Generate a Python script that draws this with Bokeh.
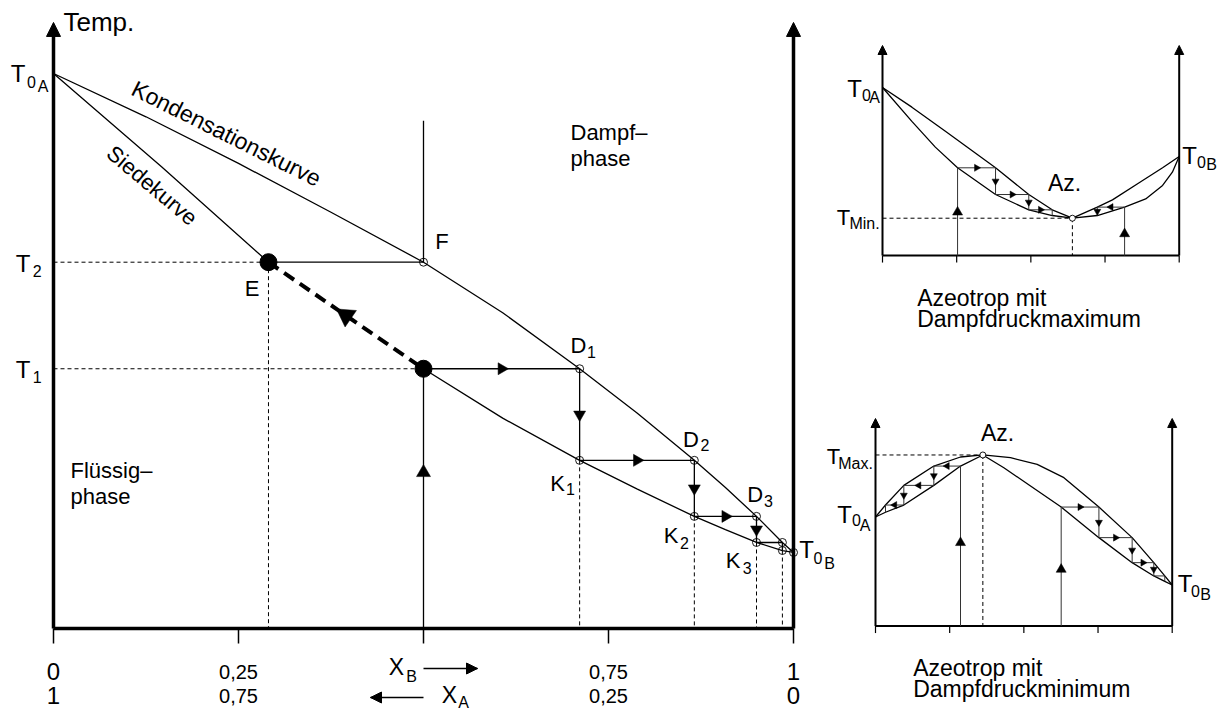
import math
from bokeh.plotting import figure
from bokeh.models import Range1d, Arrow, NormalHead
from bokeh.embed import file_html
from bokeh.resources import INLINE
from bokeh.core.properties import value

FONT = "Liberation Sans"

# ---------------- main diagram: x = mole fraction of B, T in arbitrary units ----------------
TICKS_X = [0, 0.25, 0.5, 0.75, 1.0]
TICK_LABELS_XB = ["0", "0,25", "", "0,75", "1"]
TICK_LABELS_XA = ["1", "0,75", "", "0,25", "0"]

DEW_X = [0, 0.125, 0.25, 0.375, 0.5, 0.607, 0.711, 0.789, 0.866, 0.908, 0.95, 0.985, 1.0]
DEW_T = [100, 92.2, 83.8, 75.0, 66.0, 56.9, 46.8, 38.8, 30.3, 25.4, 20.2, 15.5, 13.7]
BOIL_X = [0, 0.146, 0.2905, 0.5, 0.607, 0.711, 0.789, 0.866, 0.908, 0.95, 0.985, 1.0]
BOIL_T = [100, 83.2, 66.0, 46.8, 37.9, 30.3, 25.1, 20.2, 17.8, 15.5, 14.05, 13.7]
T2 = 66.0
T1 = 46.8
X_E = 0.2905
X_FEED = 0.5
F_TOP = 91.5
STAGE_X = [0.5, 0.711, 0.866, 0.95, 0.985]
STAGE_T = [46.8, 30.3, 20.2, 15.5, 14.05]
T_AXIS_TOP = 109.2

# ---------------- inset 1: azeotrope with vapour pressure maximum ----------------
TOP_DEW_X = [0, 0.099, 0.212, 0.381, 0.493, 0.572, 0.640, 0.724, 0.775, 0.865, 0.944, 1.0]
TOP_DEW_T = [100, 88.3, 74.0, 52.2, 36.3, 27.2, 22.2, 28.8, 33.1, 43.3, 52.2, 58.9]
TOP_BOIL_X = [0, 0.099, 0.178, 0.253, 0.381, 0.493, 0.572, 0.640, 0.724, 0.816, 0.887, 0.944, 0.977, 1.0]
TOP_BOIL_T = [100, 79.8, 64.5, 52.2, 36.3, 27.2, 23.8, 22.2, 23.8, 28.8, 33.7, 41.7, 49.6, 58.9]
TOP_AZ = (0.640, 22.2)
TOP_STAGE_L_X = [0.253, 0.381, 0.493, 0.572]
TOP_STAGE_L_T = [52.2, 36.3, 27.2, 23.8]
TOP_STAGE_R_X = [0.816, 0.724]
TOP_STAGE_R_T = [28.8, 23.8]

# ---------------- inset 2: azeotrope with vapour pressure minimum ----------------
BOT_DEW_X = [0, 0.0337, 0.0955, 0.1966, 0.2865, 0.3618, 0.455, 0.545, 0.635, 0.753, 0.865, 0.938, 0.975, 1.0]
BOT_DEW_T = [64.9, 72.0, 83.7, 95.2, 100.6, 101.8, 100.2, 96.2, 88.3, 70.8, 52.6, 37.7, 29.8, 24.4]
BOT_BOIL_X = [0, 0.0337, 0.0955, 0.1966, 0.2865, 0.3618, 0.4326, 0.5225, 0.6258, 0.753, 0.865, 0.938, 0.975, 1.0]
BOT_BOIL_T = [64.9, 67.7, 72.0, 83.7, 95.2, 101.8, 94.2, 83.3, 70.8, 52.6, 37.7, 29.8, 26.6, 24.4]
BOT_AZ = (0.3618, 101.8)
BOT_STAGE_L_X = [0.2865, 0.1966, 0.0955, 0.0337]
BOT_STAGE_L_T = [95.2, 83.7, 72.0, 67.7]
BOT_STAGE_R_X = [0.6258, 0.753, 0.865, 0.938, 0.975]
BOT_STAGE_R_T = [70.8, 52.6, 37.7, 29.8, 26.6]

# ---------------- geometry (page pixels <-> data) ----------------
W, H = 1219, 710
PX0, PY0 = 0, 0
MAIN = dict(x0=53, sx=740.0, y0=628, sy=5.55)
TOP = dict(x0=882, sx=296.7, y0=255, sy=1.68)
BOT = dict(x0=875, sx=296.7, y0=625.5, sy=1.68)


def rng(g):
    xr = Range1d((PX0 - g["x0"]) / g["sx"], (PX0 + W - g["x0"]) / g["sx"])
    yr = Range1d((g["y0"] - (PY0 + H)) / g["sy"], (g["y0"] - PY0) / g["sy"])
    return xr, yr


def conv(g, px, py):
    return (px - g["x0"]) / g["sx"], (g["y0"] - py) / g["sy"]


mx, my = rng(MAIN)
p = figure(width=W, height=H, x_range=mx, y_range=my, output_backend="svg",
           toolbar_location=None, x_axis_type=None, y_axis_type=None,
           min_border=0, outline_line_color=None, title=None)
p.background_fill_color = "white"
p.border_fill_color = "white"
tx, ty = rng(TOP)
bx, by = rng(BOT)
p.extra_x_ranges = {"tx": tx, "bx": bx}
p.extra_y_ranges = {"ty": ty, "by": by}
RN = {"main": ("default", "default"), "top": ("tx", "ty"), "bot": ("bx", "by")}
GEO = {"main": MAIN, "top": TOP, "bot": BOT}


def kw(name):
    a, b = RN[name]
    return dict(x_range_name=a, y_range_name=b)


def line(name, xs, ys, width=1.3, color="black", dash="solid"):
    p.line(xs, ys, line_width=width, line_color=color, line_dash=dash, **kw(name))


def tri(name, xs, ys, angles, size):
    p.scatter(xs, ys, marker="triangle", size=size, angle=angles, fill_color="black",
              line_color="black", line_width=0.5, **kw(name))


def head(name, x0, y0, x1, y1, size):
    a, b = RN[name]
    p.add_layout(Arrow(end=NormalHead(size=size, fill_color="black", line_color="black", line_width=1),
                       x_start=x0, y_start=y0, x_end=x1, y_end=y1, line_alpha=0,
                       x_range_name=a, y_range_name=b))


def labels(name, items):
    g = GEO[name]
    for it in items:
        text, px, py, size = it[:4]
        align = it[4] if len(it) > 4 else "center"
        ang = it[5] if len(it) > 5 else 0.0
        x, y = conv(g, px, py)
        p.text(x=[x], y=[y], text=[text], text_font=value(FONT), text_font_size=f"{size}px",
               text_align=align, text_baseline="middle", angle=ang, text_color="black", **kw(name))


def stairs(sx, st):
    xs, ts = [sx[0], sx[0]], [0, st[0]]
    for i in range(1, len(sx)):
        xs += [sx[i], sx[i]]
        ts += [st[i - 1], st[i]]
    return xs, ts


def stair_arrows(name, sx, st, n_h, n_v, size):
    hx, hy, ha, vx, vy, va = [], [], [], [], [], []
    for i in range(1, len(sx)):
        if i <= n_h:
            hx.append((sx[i - 1] + sx[i]) / 2)
            hy.append(st[i - 1])
            ha.append(-math.pi / 2 if sx[i] > sx[i - 1] else math.pi / 2)
        if i <= n_v:
            vx.append(sx[i])
            vy.append((st[i - 1] + st[i]) / 2)
            va.append(math.pi)
    tri(name, hx + vx, hy + vy, ha + va, size)


def axes_frame(name, top, lw, head_size, tick_len, tick_lw):
    sy = GEO[name]["sy"]
    for xa in (0, 1):
        line(name, [xa, xa], [0, top - 0.6 * head_size / sy], width=lw)
        head(name, xa, top - 2 * head_size / sy, xa, top, head_size)
    line(name, [0, 1], [0, 0], width=lw)
    for t in TICKS_X:
        line(name, [t, t], [0, -tick_len], width=tick_lw)


# ================= main diagram =================
axes_frame("main", T_AXIS_TOP, 3.5, 14, 2.7, 1.5)
line("main", DEW_X, DEW_T)
line("main", BOIL_X[:3], BOIL_T[:3])
line("main", BOIL_X[3:], BOIL_T[3:])
line("main", BOIL_X[2:4], BOIL_T[2:4], width=4, dash="12 7")
# dashed guides
line("main", [0, X_E], [T2, T2], width=1, dash="4 3")
line("main", [0, X_FEED], [T1, T1], width=1, dash="4 3")
line("main", [X_E, X_E], [T2, 0], width=1, dash="4 3")
for xv, yv in zip(STAGE_X[1:], STAGE_T[1:]):
    line("main", [xv, xv], [yv, 0], width=1, dash="4 3")
# E -> F and feed line above F
line("main", [X_E, X_FEED], [T2, T2])
line("main", [X_FEED, X_FEED], [T2, F_TOP])
# staircase
sxs, sts = stairs(STAGE_X, STAGE_T)
line("main", sxs, sts)
stair_arrows("main", STAGE_X, STAGE_T, 3, 3, 12)
tri("main", [X_FEED], [28.1], [0.0], 14)
# arrow on the thick dashed line (pointing to E)
mxm, mym = (X_E + X_FEED) / 2, (T2 + T1) / 2
ang = math.atan2((T2 - T1) * MAIN["sy"], (X_E - X_FEED) * MAIN["sx"]) - math.pi / 2
tri("main", [mxm], [mym], [ang], 20)
# open circles
cx = [X_FEED] + STAGE_X[1:] + STAGE_X[1:] + [1.0]
cy = [T2] + STAGE_T[:-1] + STAGE_T[1:] + [DEW_T[-1]]
p.scatter(cx, cy, marker="circle", size=8, fill_color=None, line_color="black", line_width=0.9)
p.scatter([X_E, X_FEED], [T2, T1], marker="circle", size=17, fill_color="black", line_color="black")

labels("main", [
    ("Temp.", 63, 21, 26, "left"),
    ("T", 17.5, 73, 24), ("0", 31, 81, 16), ("A", 42.5, 86, 16),
    ("T", 22.5, 262.5, 24), ("2", 36.7, 270, 16),
    ("T", 22.5, 369, 24), ("1", 36.7, 376.5, 16),
    ("T", 806, 549, 24), ("0", 817.5, 557, 16), ("B", 829, 563, 16),
    ("F", 441.5, 241, 22), ("E", 251.7, 287.5, 22),
    ("D", 578, 345, 22), ("1", 591, 351.5, 16),
    ("D", 690.5, 439, 22), ("2", 704.5, 444, 16),
    ("D", 754.7, 494, 22), ("3", 768, 500, 16),
    ("K", 557, 482.5, 22), ("1", 570, 488, 16),
    ("K", 670.5, 535, 22), ("2", 684, 542.5, 16),
    ("K", 732.5, 560, 22), ("3", 746.7, 567.5, 16),
    ("Dampf\u2013", 570, 132, 22, "left"), ("phase", 570, 158, 22, "left"),
    ("Fl\u00fcssig\u2013", 70, 470, 22, "left"), ("phase", 70, 496, 22, "left"),
    ("Kondensationskurve", 226, 133, 23, "center", -0.4625),
    ("Siedekurve", 151.5, 185, 22, "center", -0.70),
    ("X", 396, 666.5, 23), ("B", 411, 676, 16),
    ("X", 449, 694, 23), ("A", 463, 702, 16),
])
# composition tick labels
for t, lb, la in zip(TICKS_X, TICK_LABELS_XB, TICK_LABELS_XA):
    if not lb:
        continue
    size = 24 if lb in ("0", "1") else 20
    px = MAIN["x0"] + t * MAIN["sx"]
    labels("main", [(lb, px, 671, size), (la, px, 695, size)])
# X_B / X_A direction arrows
xa0, ya0 = conv(MAIN, 423, 668)
xa1, _ = conv(MAIN, 477, 668)
line("main", [xa0, xa1], [ya0, ya0], width=1.3)
head("main", xa0, ya0, xa1, ya0, 11)
xb0, yb0 = conv(MAIN, 423, 697)
xb1, _ = conv(MAIN, 370, 697)
line("main", [xb0, xb1], [yb0, yb0], width=1.3)
head("main", xb0, yb0, xb1, yb0, 11)

# ================= inset 1 =================
axes_frame("top", 125, 2, 9, 4.2, 1.2)
line("top", TOP_DEW_X, TOP_DEW_T)
line("top", TOP_BOIL_X, TOP_BOIL_T)
line("top", [0, TOP_AZ[0]], [TOP_AZ[1], TOP_AZ[1]], width=1, dash="4 3")
line("top", [TOP_AZ[0], TOP_AZ[0]], [TOP_AZ[1], 0], width=1, dash="4 3")
for sx_, st_, nh, nv, up_t in ((TOP_STAGE_L_X, TOP_STAGE_L_T, 3, 2, 25.8),
                               (TOP_STAGE_R_X, TOP_STAGE_R_T, 1, 1, 12.9)):
    xs_, ts_ = stairs(sx_, st_)
    line("top", xs_, ts_, width=1, color="#333333")
    stair_arrows("top", sx_, st_, nh, nv, 7)
    tri("top", [sx_[0]], [up_t], [0.0], 10)
p.scatter([TOP_AZ[0]], [TOP_AZ[1]], marker="circle", size=6, fill_color="white",
          line_color="black", line_width=0.9, **kw("top"))
labels("top", [
    ("T", 854, 88, 24), ("0", 866, 94, 16), ("A", 874, 96.7, 16),
    ("T", 1189, 155, 24), ("0", 1201, 161.5, 16), ("B", 1211, 164, 16),
    ("Az.", 1064, 182.5, 23),
    ("T", 843, 217, 22), ("Min.", 864, 223, 16),
    ("Azeotrop mit", 916.7, 297.5, 23, "left"),
    ("Dampfdruckmaximum", 916.7, 318, 23, "left"),
])

# ================= inset 2 =================
axes_frame("bot", 123.5, 2, 9, 4.2, 1.2)
line("bot", BOT_DEW_X, BOT_DEW_T)
line("bot", BOT_BOIL_X, BOT_BOIL_T)
line("bot", [0, BOT_AZ[0]], [BOT_AZ[1], BOT_AZ[1]], width=1, dash="4 3")
line("bot", [BOT_AZ[0], BOT_AZ[0]], [BOT_AZ[1], 0], width=1, dash="4 3")
for sx_, st_, nh, nv, up_t in ((BOT_STAGE_L_X, BOT_STAGE_L_T, 3, 2, 49.6),
                               (BOT_STAGE_R_X, BOT_STAGE_R_T, 3, 3, 33.7)):
    xs_, ts_ = stairs(sx_, st_)
    line("bot", xs_, ts_, width=1, color="#333333")
    stair_arrows("bot", sx_, st_, nh, nv, 7)
    tri("bot", [sx_[0]], [up_t], [0.0], 10)
p.scatter([BOT_AZ[0]], [BOT_AZ[1]], marker="circle", size=6, fill_color="white",
          line_color="black", line_width=0.9, **kw("bot"))
labels("bot", [
    ("Az.", 997, 432, 23),
    ("T", 833, 455.5, 22), ("Max.", 855, 463, 16),
    ("T", 844, 514, 24), ("0", 856, 519, 16), ("A", 864.5, 525, 16),
    ("T", 1184.5, 582.5, 24), ("0", 1195, 590, 16), ("B", 1205, 594, 16),
    ("Azeotrop mit", 912.7, 667, 23, "left"),
    ("Dampfdruckminimum", 912.7, 688, 23, "left"),
])

open("out.html", "w", encoding="utf-8").write(file_html(p, INLINE))
